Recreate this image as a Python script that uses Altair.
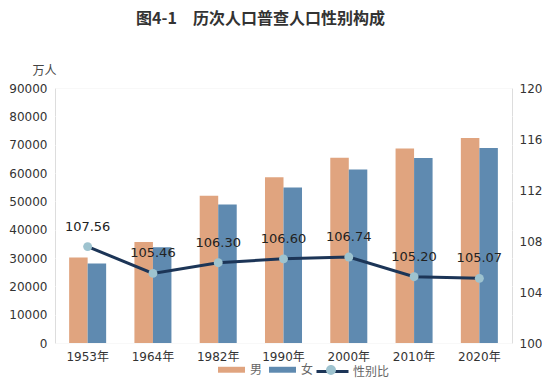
import altair as alt
import pandas as pd

years = ["1953年", "1964年", "1982年", "1990年", "2000年", "2010年", "2020年"]
male = [30190, 35652, 51944, 58495, 65355, 68685, 72334]
female = [28070, 33806, 48874, 54873, 61228, 65287, 68844]
ratio = [107.56, 105.46, 106.30, 106.60, 106.74, 105.20, 105.07]
ratio_labels = ["107.56", "105.46", "106.30", "106.60", "106.74", "105.20", "105.07"]

FONT = "DejaVu Sans, Noto Sans CJK SC"

bars_df = pd.DataFrame(
    [{"年份": y, "性别": "男", "人口": m} for y, m in zip(years, male)]
    + [{"年份": y, "性别": "女", "人口": f} for y, f in zip(years, female)]
)
ratio_df = pd.DataFrame({"年份": years, "性别比": ratio, "标签": ratio_labels, "系列": ["性别比"] * len(years)})

xscale = alt.Scale(domain=years, paddingInner=0.433, paddingOuter=0.2165)
xaxis = alt.Axis(title=None, labelFont=FONT, labelFontSize=12, labelColor="#333",
                 labelPadding=8, ticks=False, domain=False, labelAngle=0)
tickaxis = alt.Axis(title=None, labels=False, ticks=True, tickBand="extent", tickSize=5,
                    offset=-5, tickColor="#333", tickWidth=1, domain=False, grid=False)

bars = alt.Chart(bars_df).mark_bar().encode(
    x=alt.X("年份:N", scale=xscale, axis=xaxis, sort=years),
    xOffset=alt.XOffset("性别:N", sort=["男", "女"], scale=alt.Scale(domain=["男", "女"], paddingInner=0)),
    y=alt.Y("人口:Q", scale=alt.Scale(domain=[0, 90000], nice=False),
            axis=alt.Axis(values=list(range(0, 90001, 10000)), format="d", title="万人", titleAngle=0,
                          titleX=-11, titleY=-18, titleAlign="center", titleBaseline="middle",
                          titleFont=FONT, titleFontSize=12, titleFontWeight="normal", titleColor="#444",
                          labelFont=FONT, labelFontSize=12, labelColor="#333", labelPadding=8,
                          ticks=False, domain=False, grid=True, gridColor="#ffffff", gridWidth=1,
                          gridOpacity=0.8)),
    fill=alt.Fill("性别:N", scale=alt.Scale(domain=["男", "女"], range=["#e0a47f", "#5f8ab0"]),
                  legend=alt.Legend(title=None, orient="none", legendX=163, legendY=268,
                                    direction="horizontal",
                                    symbolType="M-1,-0.22H1V0.22H-1Z", symbolSize=729,
                                    symbolStrokeWidth=0, labelOffset=5, columnPadding=6,
                                    labelFont=FONT, labelFontSize=12, labelColor="#666", padding=0)),
)

yr = alt.Scale(domain=[100, 120], nice=False)
line = alt.Chart(ratio_df).mark_line(strokeWidth=3).encode(
    x=alt.X("年份:N", scale=xscale, sort=years, axis=None),
    y=alt.Y("性别比:Q", scale=yr,
            axis=alt.Axis(orient="right", values=[100, 104, 108, 112, 116, 120], title=None,
                          labelFont=FONT, labelFontSize=12, labelColor="#333", labelPadding=7,
                          ticks=False, domain=False, grid=False)),
    stroke=alt.Stroke("系列:N", scale=alt.Scale(domain=["性别比"], range=["#1c3557"]),
                      legend=alt.Legend(title=None, orient="none", legendX=260, legendY=266,
                                        symbolType="M-1,0H1", symbolSize=1024, symbolStrokeWidth=3,
                                        labelOffset=3, labelFont=FONT, labelFontSize=12,
                                        labelColor="#666", padding=0)),
)
points = alt.Chart(ratio_df).mark_point(filled=True, size=80, opacity=1).encode(
    x=alt.X("年份:N", scale=xscale, sort=years, axis=None),
    y=alt.Y("性别比:Q", scale=yr),
    fill=alt.Fill("系列:N", scale=alt.Scale(domain=["性别比"], range=["#9ec3cf"]),
                  legend=alt.Legend(title=None, orient="none", legendX=260, legendY=266,
                                    symbolType="M0.31,0A0.31,0.31,0,1,1,-0.31,0A0.31,0.31,0,1,1,0.31,0Z",
                                    symbolSize=1024, symbolStrokeWidth=0, symbolOpacity=1,
                                    labelOffset=3, labelFont=FONT, labelFontSize=12,
                                    labelExpr="''", padding=0)),
)
labels = alt.Chart(ratio_df).mark_text(dy=-20, font=FONT, fontSize=13, color="#222", baseline="middle").encode(
    x=alt.X("年份:N", scale=xscale, sort=years, axis=tickaxis),
    y=alt.Y("性别比:Q", scale=yr),
    text="标签:N",
)

right = alt.layer(line, points, labels)

chart = alt.layer(bars, right).resolve_scale(y="independent", fill="independent").resolve_axis(
    x="independent").properties(
    width=457, height=255,
    autosize=alt.AutoSizeParams(type="none"),
    padding={"left": 47, "top": 80, "right": 30, "bottom": 40},
    title=alt.TitleParams("图4-1　历次人口普查人口性别构成", font="Noto Sans CJK SC", fontSize=16,
                          fontWeight="bold", color="#333", anchor="middle", frame="group",
                          offset=37, dx=-23),
).configure_view(fill="#eef0fa", stroke="#222", strokeWidth=1).configure(background="white")

chart.save("out.html", embed_options={"renderer": "svg", "actions": False})
